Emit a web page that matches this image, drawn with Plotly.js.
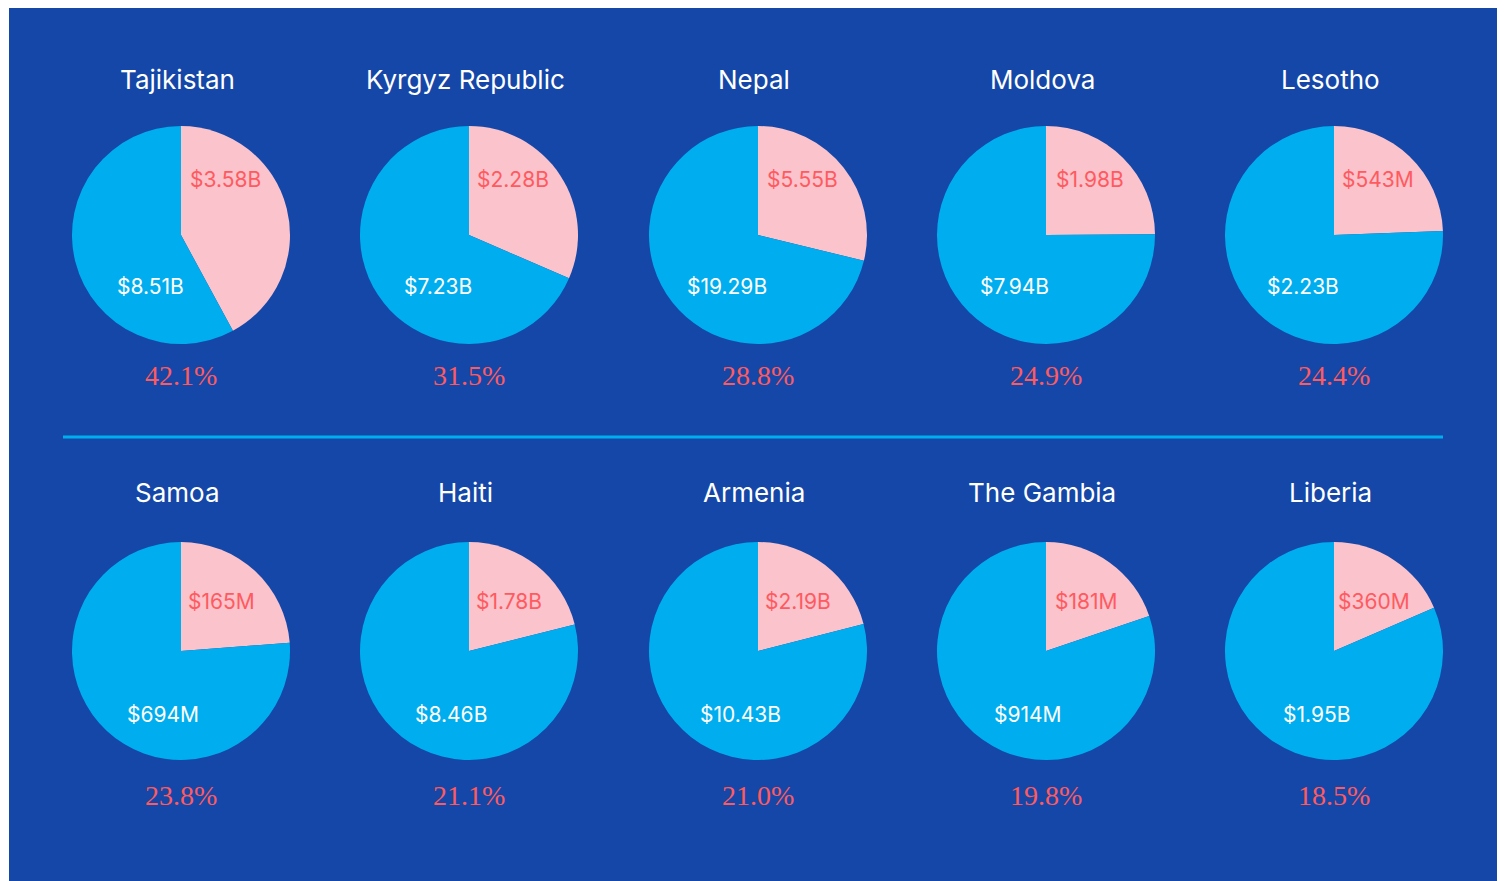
<!DOCTYPE html>
<html>
<head>
<meta charset="utf-8">
<script src="https://cdn.plot.ly/plotly-3.0.1.min.js"></script>
<style>
html,body{margin:0;padding:0;background:#ffffff;}
#chart{position:absolute;left:9px;top:8px;width:1488px;height:873px;}
</style>
</head>
<body>
<div id="chart"></div>
<script>
// ---- data ----
const countries = ["Tajikistan","Kyrgyz Republic","Nepal","Moldova","Lesotho",
                   "Samoa","Haiti","Armenia","The Gambia","Liberia"];
const sharePct = [42.1, 31.5, 28.8, 24.9, 24.4, 23.8, 21.1, 21.0, 19.8, 18.5];
const remittanceLabels = ["$3.58B","$2.28B","$5.55B","$1.98B","$543M",
                          "$165M","$1.78B","$2.19B","$181M","$360M"];
const gdpLabels = ["$8.51B","$7.23B","$19.29B","$7.94B","$2.23B",
                   "$694M","$8.46B","$10.43B","$914M","$1.95B"];

// ---- layout constants (pixels within the chart div) ----
const W = 1488, H = 873;
const colX = [172, 460, 749, 1037, 1325];
const rowY = [227, 643];
const R = 109;
const titleY = [71, 484];
const pctY = [367, 787];
// label offsets from the pie centre, per row
const pinkOff = [[44, -55], [40, -50]];
const blueOff = [[-31, 51], [-18, 63]];

const BG = "#1447A8", BLUE = "#00AEEF", PINK = "#FBC3CC", CORAL = "#FF5A5F";
const SANS = "Inter, 'Noto Sans', sans-serif";
const SERIF = "'Liberation Serif', 'DejaVu Serif', serif";

const traces = [], annotations = [];
function addText(text, px, py, font) {
  annotations.push({
    text: text, x: px / W, y: 1 - py / H, xref: "paper", yref: "paper",
    showarrow: false, xanchor: "center", yanchor: "middle", font: font
  });
}
countries.forEach((c, i) => {
  const row = Math.floor(i / 5), col = i % 5;
  const cx = colX[col], cy = rowY[row];
  traces.push({
    type: "pie",
    values: [sharePct[i], 100 - sharePct[i]],
    labels: ["Remittances", "Rest"],
    textinfo: "none",
    marker: {colors: [PINK, BLUE], line: {width: 0}},
    sort: false,
    direction: "clockwise",
    rotation: 0,
    hoverinfo: "none",
    showlegend: false,
    domain: {x: [(cx - R) / W, (cx + R) / W], y: [(H - cy - R) / H, (H - cy + R) / H]}
  });
  addText(c, cx - 4, titleY[row], {family: SANS, size: 26, color: "#ffffff"});
  addText(remittanceLabels[i], cx + pinkOff[row][0], cy + pinkOff[row][1],
          {family: SANS, size: 21, color: CORAL});
  addText(gdpLabels[i], cx + blueOff[row][0], cy + blueOff[row][1],
          {family: SANS, size: 21, color: "#ffffff"});
  addText(sharePct[i].toFixed(1) + "%", cx, pctY[row],
          {family: SERIF, size: 28, color: CORAL});
});

const layout = {
  width: W, height: H,
  paper_bgcolor: BG, plot_bgcolor: BG,
  margin: {l: 0, r: 0, t: 0, b: 0},
  annotations: annotations,
  shapes: [{type: "line", xref: "paper", yref: "paper",
            x0: 54 / W, x1: 1434 / W, y0: 1 - 429 / H, y1: 1 - 429 / H,
            line: {color: BLUE, width: 3}}]
};
Plotly.newPlot("chart", traces, layout, {displayModeBar: false, staticPlot: true});
</script>
</body>
</html>
